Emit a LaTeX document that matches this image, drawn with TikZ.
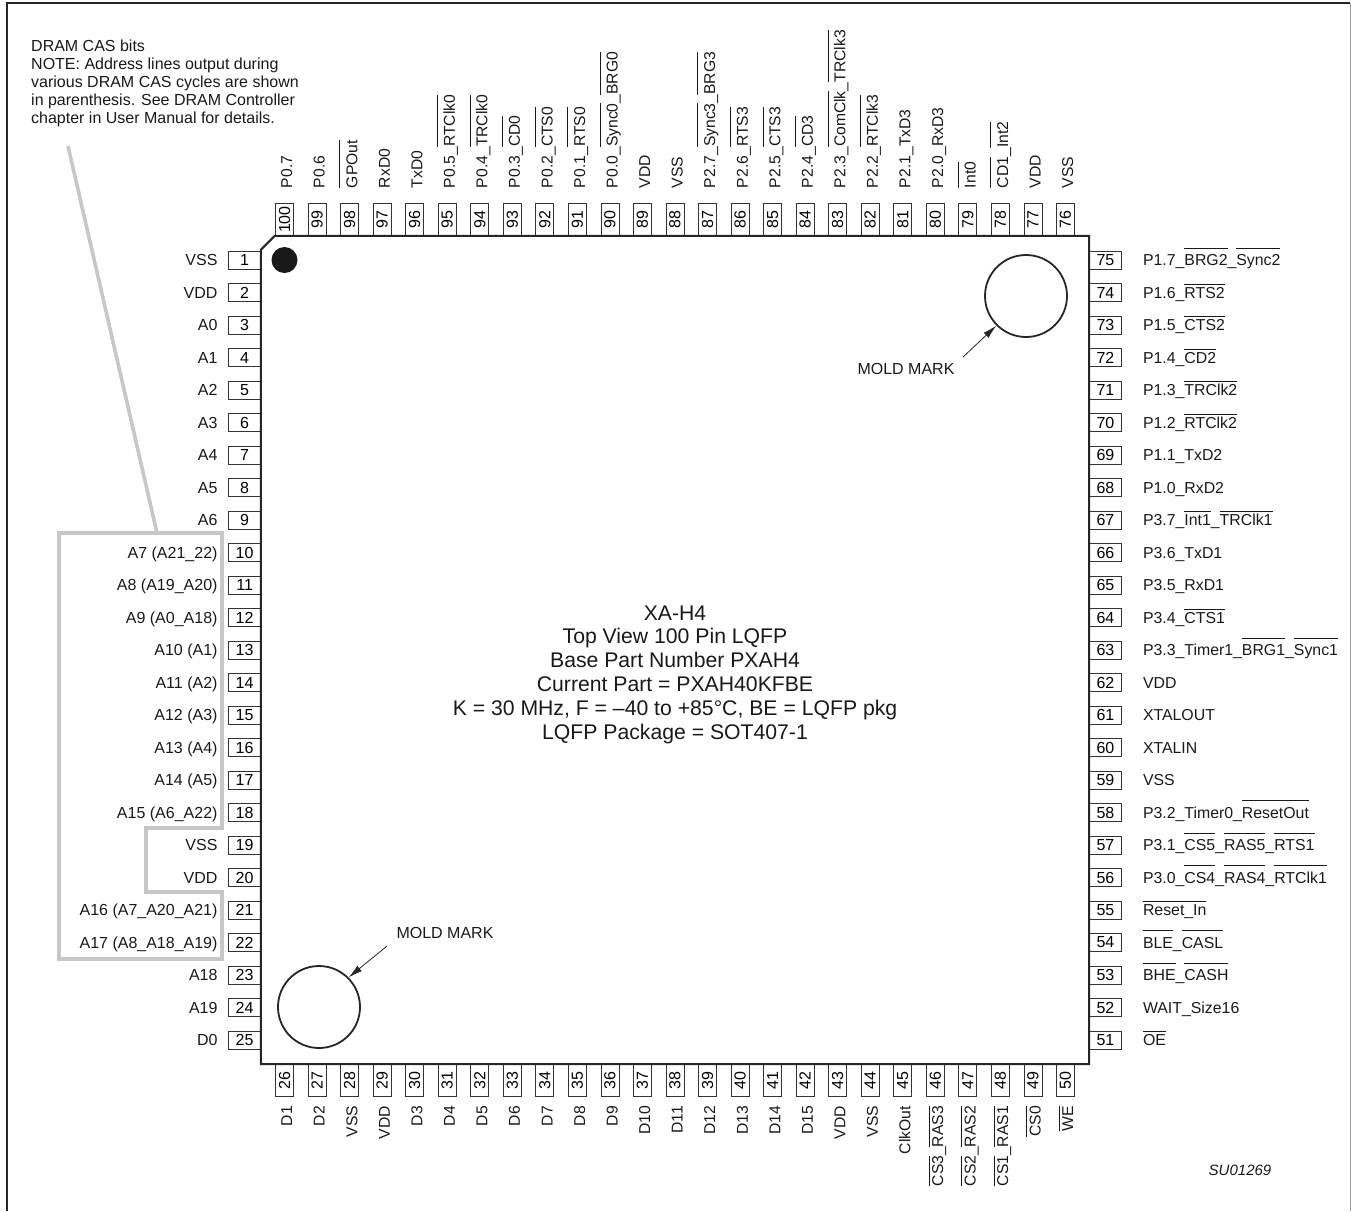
\documentclass[tikz,border=0pt]{standalone}
\usepackage{fontspec}
\setmainfont{Liberation Sans}
\usetikzlibrary{arrows.meta,calc}
\newcommand{\ovlat}[2]{\leavevmode\setbox0\hbox{#2}\rlap{\smash{\raise #1\hbox{\rule{\wd0}{0.8pt}}}}\box0}
\newcommand{\ovl}[1]{\ovlat{13.6pt}{#1}}
\newcommand{\ovlh}[1]{\ovlat{17pt}{#1}}
\begin{document}
\begin{tikzpicture}[x=1pt,y=-1pt,>=latex,
    pin box/.style={draw=black!80, line width=0.8pt, fill=white, minimum width=32pt, minimum height=18pt, inner sep=0pt},
    pin label/.style={inner sep=0pt, text=black!90},
    turned label/.style={pin label, rotate=90, font=\fontsize{15.7}{18}\selectfont},
    right label/.style={pin label, anchor=base west, font=\fontsize{15.85}{18}\selectfont},
    chip/.style={minimum width=828pt, minimum height=828pt, inner sep=0pt},
    mold circle/.style={circle, draw=black!85, line width=1.8pt, minimum size=82pt, inner sep=0pt},
    cas line/.style={draw=black!22, line width=3.6pt}]
  \tikzstyle{every node}=[font=\fontsize{16}{18}\selectfont]
  \useasboundingbox (0,0) rectangle (1351,1211);

  % frame
  \draw[black!85, line width=2.4pt] (7,1211) -- (7,3) -- (1350,3);
  \draw[black!40, line width=1pt] (1350,3) -- (1350,1211);

  % left side
  \foreach \t [count=\i from 1] in {VSS,VDD,A0,A1,A2,A3,A4,A5,A6,A7 (A21\_22),A8 (A19\_A20),A9 (A0\_A18),
      A10 (A1),A11 (A2),A12 (A3),A13 (A4),A14 (A5),A15 (A6\_A22),VSS,VDD,A16 (A7\_A20\_A21),
      A17 (A8\_A18\_A19),A18,A19,D0} {
    \node[pin box, anchor=east] (p\i) at (261,{260+32.5*(\i-1)}) {\i};
    \node[pin label, anchor=base east] (l\i) at ([xshift=-10.5pt,yshift=-5.7pt]p\i.west) {\t};
  }

  % bottom side
  \foreach \t [count=\i from 26] in {D1,D2,VSS,VDD,D3,D4,D5,D6,D7,D8,D9,D10,D11,D12,D13,D14,D15,VDD,VSS,ClkOut,
      \ovl{CS3}\_\ovl{RAS3},\ovl{CS2}\_\ovl{RAS2},\ovl{CS1}\_\ovl{RAS1},\ovl{CS0},\ovl{WE}} {
    \node[pin box, rotate=90, anchor=east] (p\i) at ({284.5+32.54*(\i-26)},1064) {\i};
    \node[turned label, anchor=base east] (l\i) at ([xshift=7.7pt,yshift=-9pt]p\i.west) {\t};
  }

  % right side
  \foreach \t [count=\i from 0] in {P1.7\_\ovlh{BRG2}\_\ovlh{Sync2},P1.6\_\ovl{RTS2},P1.5\_\ovl{CTS2},P1.4\_\ovl{CD2},
      P1.3\_\ovl{TRClk2},P1.2\_\ovl{RTClk2},P1.1\_TxD2,P1.0\_RxD2,P3.7\_\ovl{Int1}\_\ovl{TRClk1},P3.6\_TxD1,P3.5\_RxD1,
      P3.4\_\ovl{CTS1},P3.3\_Timer1\_\ovlh{BRG1}\_\ovlh{Sync1},VDD,XTALOUT,XTALIN,VSS,P3.2\_Timer0\_\ovlh{ResetOut},
      P3.1\_\ovlh{CS5}\_\ovlh{RAS5}\_\ovlh{RTS1},P3.0\_\ovlh{CS4}\_\ovlh{RAS4}\_\ovlh{RTClk1},\ovl{Reset\_In},
      \ovlh{BLE}\_\ovlh{CASL},\ovlh{BHE}\_\ovlh{CASH},WAIT\_Size16,\ovl{OE}} {
    \pgfmathtruncatemacro{\n}{75-\i}
    \node[pin box, anchor=west] (p\n) at (1089,{260+32.5*\i}) {\n};
    \node[right label] (l\n) at ([xshift=21pt,yshift=-5.7pt]p\n.east) {\t};
  }

  % top side
  \foreach \t [count=\i from 0] in {P0.7,P0.6,\ovlh{GPOut},RxD0,TxD0,P0.5\_\ovlh{RTClk0},P0.4\_\ovlh{TRClk0},P0.3\_\ovlh{CD0},
      P0.2\_\ovlh{CTS0},P0.1\_\ovlh{RTS0},P0.0\_\ovlh{Sync0}\_\ovlh{BRG0},VDD,VSS,P2.7\_\ovlh{Sync3}\_\ovlh{BRG3},
      P2.6\_\ovlh{RTS3},P2.5\_\ovlh{CTS3},P2.4\_\ovlh{CD3},P2.3\_\ovlh{ComClk}\_\ovlh{TRClk3},P2.2\_\ovlh{RTClk3},
      P2.1\_TxD3,P2.0\_RxD3,\ovlh{Int0},\ovlh{CD1}\_\ovlh{Int2},VDD,VSS} {
    \pgfmathtruncatemacro{\n}{100-\i}
    \node[pin box, rotate=90, anchor=west] (p\n) at ({284.5+32.54*\i},236) {\n};
    \node[turned label, anchor=base west] (l\n) at ([xshift=7.7pt,yshift=15pt]p\n.east) {\t};
  }

  % package
  \node[chip] (chip) at (675,650) {};
  \draw[black!85, line width=2pt, line join=miter] ($(chip.north west)+(14,0)$) -- (chip.north east) -- (chip.south east)
    -- (chip.south west) -- ($(chip.north west)+(0,14)$) -- cycle;
  \node[circle, fill=black!90, minimum size=26pt, inner sep=0pt] (dot) at (284.5,260) {};
  \node[mold circle] (moldt) at (1026,296) {};
  \node[mold circle] (moldb) at (319,1007) {};

  \node[align=center, font=\fontsize{21.2}{23.8}\selectfont, text=black!90] (title) at (675,674.5) {XA-H4\\
    Top View 100 Pin LQFP\\Base Part Number PXAH4\\Current Part = PXAH40KFBE\\
    K = 30 MHz, F = –40 to +85°C, BE = LQFP pkg\\LQFP Package = SOT407-1};

  \node[pin label] (markt) at (906,369) {MOLD MARK};
  \node[pin label] (markb) at (445,933) {MOLD MARK};
  \coordinate (tailt) at (963,357);
  \coordinate (tailb) at (387,946);
  \draw[-{Latex[length=14pt,width=7pt]}, black!85, line width=0.8pt] (tailt) -- (moldt.225);
  \draw[-{Latex[length=14pt,width=7pt]}, black!85, line width=0.8pt] (tailb) -- (moldb.45);

  % DRAM CAS note
  \node[pin label, align=left, anchor=north west] (note) at (31,40) {DRAM CAS bits\\
    NOTE: Address lines output during\\various DRAM CAS cycles are shown\\
    in parenthesis. See DRAM Controller\\chapter in User Manual for details.};
  \coordinate (castop) at (157,533);
  \coordinate (castail) at (68,146);
  \draw[cas line] (castail) -- (castop);
  \draw[cas line] (59,533) -- (222,533) -- (222,828) -- (146,828) -- (146,892) -- (222,892) -- (222,959) -- (59,959) -- cycle;

  \node[pin label, font=\fontsize{15}{18}\selectfont\itshape] (code) at (1240,1170) {SU01269};
\end{tikzpicture}
\end{document}
